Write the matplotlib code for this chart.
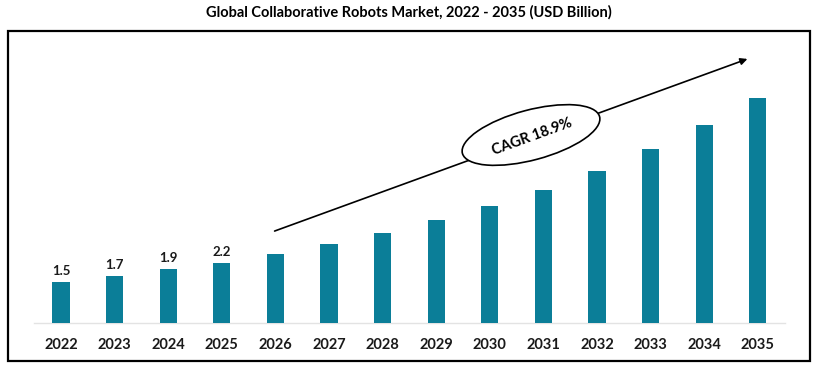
import matplotlib
matplotlib.use("Agg")
import matplotlib.pyplot as plt
from matplotlib.patches import Ellipse, Rectangle

years = ["2022", "2023", "2024", "2025", "2026", "2027", "2028",
         "2029", "2030", "2031", "2032", "2033", "2034", "2035"]
values = [1.5, 1.72, 1.95, 2.2, 2.52, 2.89, 3.29, 3.73, 4.25, 4.85, 5.53, 6.31, 7.19, 8.2]
labeled = ["1.5", "1.7", "1.9", "2.2"]
title = "Global Collaborative Robots Market, 2022 - 2035 (USD Billion)"
cagr_text = "CAGR 18.9%"

plt.rcParams['font.family'] = ['Lato', 'DejaVu Sans']

W, H = 816, 368
fig = plt.figure(figsize=(W / 100, H / 100), dpi=100)

# data axes, mapped to pixels
x0, dx = 61.0, 53.6
base, scale = 323.0, 27.5
ax = fig.add_axes([0, 0, 1, 1])
ax.set_xlim(-x0 / dx, (W - x0) / dx)
ax.set_ylim(-(H - base) / scale, base / scale)
ax.axis("off")
xs = list(range(len(years)))
ax.bar(xs, values, width=0.32, color="#0B7E98", zorder=2)
ax.plot([-0.5, len(years) - 0.5], [0, 0], color="#e3e3e3", lw=1, zorder=1)
for i, y in enumerate(years):
    ax.text(i, -22 / scale, y, ha="center", va="center", fontsize=10.5,
            fontweight="bold", color="#1a1a1a")
for i, lab in enumerate(labeled):
    ax.text(i, values[i] + 5 / scale, lab, ha="center", va="bottom", fontsize=9.5,
            fontweight="bold", color="#1a1a1a")

# overlay in pixel coords
ov = fig.add_axes([0, 0, 1, 1], facecolor="none")
ov.set_xlim(0, W)
ov.set_ylim(H, 0)
ov.axis("off")
ov.add_patch(Rectangle((8, 31), 802, 330, fill=False, ec="black", lw=1.6))
ov.text(W / 2 + 1, 12, title, ha="center", va="center", fontsize=10.5,
        fontweight="bold", color="black")
ov.annotate("", xy=(750, 58), xytext=(272, 232),
            arrowprops=dict(arrowstyle="-|>", color="black", lw=1.2,
                            mutation_scale=10))
ov.add_patch(Ellipse((531, 135), 142, 50, angle=-15, fc="white", ec="black",
                     lw=1.2, zorder=5))
ov.text(532, 137, cagr_text, ha="center", va="center", rotation=20,
        fontsize=10.5, fontweight="bold", color="black", zorder=6)

fig.savefig("out.png", dpi=100)
